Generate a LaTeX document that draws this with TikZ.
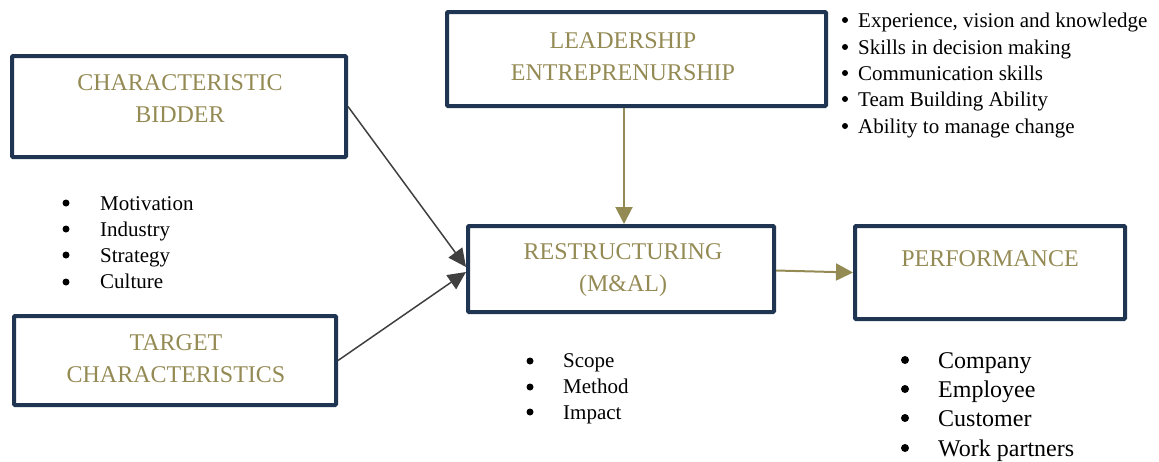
\documentclass[tikz,border=0pt]{standalone}
\usepackage{fontspec}
\setmainfont{Liberation Serif}
\usetikzlibrary{arrows.meta}

\definecolor{navy}{HTML}{1F3551}
\definecolor{olive}{HTML}{948A54}
\definecolor{darkgray}{HTML}{404040}

\tikzset{
  box/.style={draw=navy, line width=4pt, rounded corners=1pt, inner sep=0pt},
  title/.style={text=olive, font=\fontsize{24}{32}\selectfont, align=center, inner sep=0pt},
  item/.style={anchor=base west, font=\fontsize{21}{26}\selectfont, inner sep=0pt},
  bigitem/.style={anchor=base west, font=\fontsize{24}{29}\selectfont, inner sep=0pt},
  grayarrow/.style={draw=darkgray, line width=1.5pt, -{Triangle[length=18pt,width=17pt]}},
  goldarrow/.style={draw=olive, line width=2pt, -{Triangle[length=17pt,width=17pt]}},
}

\begin{document}
\begin{tikzpicture}[x=1pt, y=-1pt]
\useasboundingbox (0,0) rectangle (1159,461);

% boxes
\node[box, minimum width=334, minimum height=101] (bidder) at (179,106.5) {};
\node[box, minimum width=322, minimum height=89] (target) at (175,360.5) {};
\node[box, minimum width=379, minimum height=94] (leader) at (636.5,59) {};
\node[box, minimum width=306, minimum height=86] (restr) at (621,269) {};
\node[box, minimum width=270, minimum height=93] (perf) at (990,272.5) {};

\node[title] (bidderT) at (180,99) {CHARACTERISTIC\\BIDDER};
\node[title] (targetT) at (176,359) {TARGET\\CHARACTERISTICS};
\node[title] (leaderT) at (623,56.5) {LEADERSHIP\\ENTREPRENURSHIP};
\node[title] (restrT) at (623,270) {RESTRUCTURING\\(M\&AL)};
\node[title] (perfT) at (990,259) {PERFORMANCE};

% arrows
\draw[grayarrow] (bidder.east) -- ([yshift=2pt]restr.west);
\draw[grayarrow] (target.east) -- ([yshift=-3pt]restr.west);
\coordinate (restrTop) at ([xshift=3pt]restr.north);
\draw[goldarrow] (leader.south -| restrTop) -- (restrTop);
\draw[goldarrow] ([yshift=-1.5pt]restr.east) -- (perf.west);

% leadership list
\fill (845,20) circle (3);
\node[item] (exper) at (858,27) {Experience, vision and knowledge};
\fill (845,47) circle (3);
\node[item] (skills) at (858,54) {Skills in decision making};
\fill (845,73) circle (3);
\node[item] (commu) at (858,80) {Communication skills};
\fill (845,99) circle (3);
\node[item] (team) at (858,106) {Team Building Ability};
\fill (845,126) circle (3);
\node[item] (change) at (858,133) {Ability to manage change};

% bidder list
\fill (66,203) circle (3.5);
\node[item] (motiv) at (100,210) {Motivation};
\fill (66,229) circle (3.5);
\node[item] (indus) at (100,236) {Industry};
\fill (66,255) circle (3.5);
\node[item] (strat) at (100,262) {Strategy};
\fill (66,282) circle (3.5);
\node[item] (cult) at (100,288) {Culture};

% restructuring list
\fill (530,361) circle (3.5);
\node[item] (scope) at (563,367) {Scope};
\fill (530,387) circle (3.5);
\node[item] (method) at (563,393) {Method};
\fill (530,412) circle (3.5);
\node[item] (impact) at (563,419) {Impact};

% performance list
\fill (905,360) circle (4);
\node[bigitem] (comp) at (938,368) {Company};
\fill (905,389) circle (4);
\node[bigitem] (empl) at (938,397) {Employee};
\fill (905,418) circle (4);
\node[bigitem] (cust) at (938,426) {Customer};
\fill (905,448) circle (4);
\node[bigitem] (work) at (938,456) {Work partners};
\end{tikzpicture}
\end{document}
